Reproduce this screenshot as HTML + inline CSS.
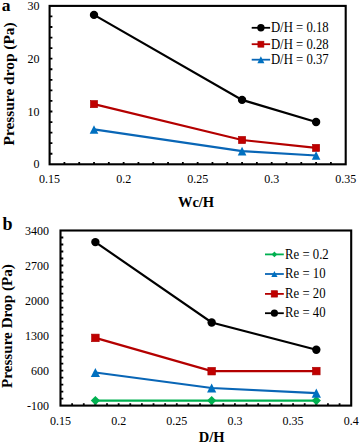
<!DOCTYPE html>
<html><head><meta charset="utf-8"><style>
html,body{margin:0;padding:0;background:#fff;}
body{width:361px;height:443px;overflow:hidden;}
svg{display:block;font-family:"Liberation Serif", serif;}
</style></head><body>
<svg width="361" height="443" viewBox="0 0 361 443">
<rect width="361" height="443" fill="#fff"/>
<path d="M49.6,153.74h2.8M49.6,143.18h2.8M49.6,132.62h2.8M49.6,122.06h2.8M49.6,111.5h2.8M49.6,100.94h2.8M49.6,90.38h2.8M49.6,79.82h2.8M49.6,69.26h2.8M49.6,58.7h2.8M49.6,48.14h2.8M49.6,37.58h2.8M49.6,27.02h2.8M49.6,16.46h2.8M64.41,164.3v-2.4M79.21,164.3v-2.4M94.02,164.3v-2.4M108.82,164.3v-2.4M123.63,164.3v-2.4M138.43,164.3v-2.4M153.24,164.3v-2.4M168.04,164.3v-2.4M182.85,164.3v-2.4M197.65,164.3v-2.4M212.46,164.3v-2.4M227.26,164.3v-2.4M242.07,164.3v-2.4M256.87,164.3v-2.4M271.68,164.3v-2.4M286.48,164.3v-2.4M301.29,164.3v-2.4M316.09,164.3v-2.4M330.9,164.3v-2.4" stroke="#000" stroke-width="1.8" fill="none"/>
<polyline points="94.01,14.88 242.07,99.88 316.09,122.06" fill="none" stroke="#000000" stroke-width="2.2"/>
<circle cx="94.01" cy="14.88" r="4.2" fill="#000000"/>
<circle cx="242.07" cy="99.88" r="4.2" fill="#000000"/>
<circle cx="316.09" cy="122.06" r="4.2" fill="#000000"/>
<polyline points="94.01,104.11 242.07,140.01 316.09,147.93" fill="none" stroke="#B40000" stroke-width="2.2"/>
<rect x="90.41" y="100.51" width="7.2" height="7.2" fill="#C00000" stroke="#A80000" stroke-width="0.6"/>
<rect x="238.47" y="136.41" width="7.2" height="7.2" fill="#C00000" stroke="#A80000" stroke-width="0.6"/>
<rect x="312.49" y="144.33" width="7.2" height="7.2" fill="#C00000" stroke="#A80000" stroke-width="0.6"/>
<polyline points="94.01,129.45 242.07,151.1 316.09,155.48" fill="none" stroke="#0966B6" stroke-width="2.2"/>
<polygon points="94.01,125.15 98.31,133.75 89.71,133.75" fill="#0070C0"/>
<polygon points="242.07,146.8 246.37,155.4 237.77,155.4" fill="#0070C0"/>
<polygon points="316.09,151.18 320.39,159.78 311.79,159.78" fill="#0070C0"/>
<rect x="49.6" y="5.9" width="296.1" height="158.4" fill="none" stroke="#000" stroke-width="2.1"/>
<text transform="translate(39.6,168.4) scale(1,1)" text-anchor="end" font-size="12">0</text>
<text transform="translate(39.6,115.6) scale(1,1)" text-anchor="end" font-size="12">10</text>
<text transform="translate(39.6,62.8) scale(1,1)" text-anchor="end" font-size="12">20</text>
<text transform="translate(39.6,10) scale(1,1)" text-anchor="end" font-size="12">30</text>
<text transform="translate(49.6,182.8) scale(1,1)" text-anchor="middle" font-size="12">0.15</text>
<text transform="translate(123.63,182.8) scale(1,1)" text-anchor="middle" font-size="12">0.2</text>
<text transform="translate(197.65,182.8) scale(1,1)" text-anchor="middle" font-size="12">0.25</text>
<text transform="translate(271.68,182.8) scale(1,1)" text-anchor="middle" font-size="12">0.3</text>
<text transform="translate(345.7,182.8) scale(1,1)" text-anchor="middle" font-size="12">0.35</text>
<text x="196" y="206.8" text-anchor="middle" font-size="14.5" font-weight="bold">Wc/H</text>
<text transform="translate(14,83.9) rotate(-90)" text-anchor="middle" font-size="15.4" font-weight="bold">Pressure drop (Pa)</text>
<text x="1.8" y="10.5" font-size="17.5" font-weight="bold">a</text>
<line x1="251.7" x2="270.1" y1="27.8" y2="27.8" stroke="#000000" stroke-width="1.8"/>
<circle cx="260.9" cy="27.8" r="3.7" fill="#000000"/>
<text transform="translate(270.9,32.1) scale(0.98,1.06)" font-size="13">D/H = 0.18</text>
<line x1="251.7" x2="270.1" y1="44.2" y2="44.2" stroke="#B40000" stroke-width="1.8"/>
<rect x="257.9" y="41.2" width="6" height="6" fill="#C00000" stroke="#A80000" stroke-width="0.6"/>
<text transform="translate(270.9,48.5) scale(0.98,1.06)" font-size="13">D/H = 0.28</text>
<line x1="251.7" x2="270.1" y1="59.7" y2="59.7" stroke="#0966B6" stroke-width="1.8"/>
<polygon points="260.9,56.2 264.4,63.2 257.4,63.2" fill="#0070C0"/>
<text transform="translate(270.9,64) scale(0.98,1.06)" font-size="13">D/H = 0.37</text>
<path d="M60.5,398.6h2.8M60.5,391.59h2.8M60.5,384.59h2.8M60.5,377.58h2.8M60.5,370.58h2.8M60.5,363.58h2.8M60.5,356.57h2.8M60.5,349.57h2.8M60.5,342.56h2.8M60.5,335.56h2.8M60.5,328.56h2.8M60.5,321.55h2.8M60.5,314.55h2.8M60.5,307.54h2.8M60.5,300.54h2.8M60.5,293.54h2.8M60.5,286.53h2.8M60.5,279.53h2.8M60.5,272.52h2.8M60.5,265.52h2.8M60.5,258.52h2.8M60.5,251.51h2.8M60.5,244.51h2.8M60.5,237.5h2.8M72.13,405.6v-2.4M83.76,405.6v-2.4M95.38,405.6v-2.4M107.01,405.6v-2.4M118.64,405.6v-2.4M130.27,405.6v-2.4M141.9,405.6v-2.4M153.52,405.6v-2.4M165.15,405.6v-2.4M176.78,405.6v-2.4M188.41,405.6v-2.4M200.04,405.6v-2.4M211.66,405.6v-2.4M223.29,405.6v-2.4M234.92,405.6v-2.4M246.55,405.6v-2.4M258.18,405.6v-2.4M269.8,405.6v-2.4M281.43,405.6v-2.4M293.06,405.6v-2.4M304.69,405.6v-2.4M316.32,405.6v-2.4M327.94,405.6v-2.4M339.57,405.6v-2.4" stroke="#000" stroke-width="1.8" fill="none"/>
<polyline points="95.38,400.6 211.66,400.6 316.32,400.6" fill="none" stroke="#00B050" stroke-width="2.2"/>
<polygon points="95.38,396 99.98,400.6 95.38,405.2 90.78,400.6" fill="#00B050"/>
<polygon points="211.66,396 216.26,400.6 211.66,405.2 207.06,400.6" fill="#00B050"/>
<polygon points="316.32,396 320.92,400.6 316.32,405.2 311.72,400.6" fill="#00B050"/>
<polyline points="95.38,372.48 211.66,387.99 316.32,393.09" fill="none" stroke="#0966B6" stroke-width="2.2"/>
<polygon points="95.38,367.88 99.98,377.08 90.78,377.08" fill="#0070C0"/>
<polygon points="211.66,383.39 216.26,392.59 207.06,392.59" fill="#0070C0"/>
<polygon points="316.32,388.49 320.92,397.69 311.72,397.69" fill="#0070C0"/>
<polyline points="95.38,337.91 211.66,371.18 316.32,371.08" fill="none" stroke="#B40000" stroke-width="2.2"/>
<rect x="91.58" y="334.11" width="7.6" height="7.6" fill="#C00000" stroke="#A80000" stroke-width="0.6"/>
<rect x="207.86" y="367.38" width="7.6" height="7.6" fill="#C00000" stroke="#A80000" stroke-width="0.6"/>
<rect x="312.52" y="367.28" width="7.6" height="7.6" fill="#C00000" stroke="#A80000" stroke-width="0.6"/>
<polyline points="95.38,242.11 211.66,322.5 316.32,349.72" fill="none" stroke="#000000" stroke-width="2.2"/>
<circle cx="95.38" cy="242.11" r="4.2" fill="#000000"/>
<circle cx="211.66" cy="322.5" r="4.2" fill="#000000"/>
<circle cx="316.32" cy="349.72" r="4.2" fill="#000000"/>
<rect x="60.5" y="230.5" width="290.7" height="175.1" fill="none" stroke="#000" stroke-width="2.1"/>
<text transform="translate(48.9,409.8) scale(1,1.06)" text-anchor="end" font-size="12">-100</text>
<text transform="translate(48.9,374.78) scale(1,1.06)" text-anchor="end" font-size="12">600</text>
<text transform="translate(48.9,339.76) scale(1,1.06)" text-anchor="end" font-size="12">1300</text>
<text transform="translate(48.9,304.74) scale(1,1.06)" text-anchor="end" font-size="12">2000</text>
<text transform="translate(48.9,269.72) scale(1,1.06)" text-anchor="end" font-size="12">2700</text>
<text transform="translate(48.9,234.7) scale(1,1.06)" text-anchor="end" font-size="12">3400</text>
<text transform="translate(60.5,424.6) scale(1,1.06)" text-anchor="middle" font-size="12">0.15</text>
<text transform="translate(118.64,424.6) scale(1,1.06)" text-anchor="middle" font-size="12">0.2</text>
<text transform="translate(176.78,424.6) scale(1,1.06)" text-anchor="middle" font-size="12">0.25</text>
<text transform="translate(234.92,424.6) scale(1,1.06)" text-anchor="middle" font-size="12">0.3</text>
<text transform="translate(293.06,424.6) scale(1,1.06)" text-anchor="middle" font-size="12">0.35</text>
<text transform="translate(351.2,424.6) scale(1,1.06)" text-anchor="middle" font-size="12">0.4</text>
<text x="211.7" y="441.6" text-anchor="middle" font-size="14.5" font-weight="bold">D/H</text>
<text transform="translate(12.1,326.1) rotate(-90)" text-anchor="middle" font-size="15.2" font-weight="bold">Pressure Drop (Pa)</text>
<text x="2.4" y="230.4" font-size="18" font-weight="bold">b</text>
<line x1="265" x2="283.8" y1="254.4" y2="254.4" stroke="#00B050" stroke-width="1.8"/>
<polygon points="274.4,251.6 277.2,254.4 274.4,257.2 271.6,254.4" fill="#00B050"/>
<text transform="translate(285.1,258.6) scale(0.98,1.06)" font-size="13">Re = 0.2</text>
<line x1="265" x2="283.8" y1="274" y2="274" stroke="#0966B6" stroke-width="1.8"/>
<polygon points="274.4,270.9 277.5,277.1 271.3,277.1" fill="#0070C0"/>
<text transform="translate(285.1,278.2) scale(0.98,1.06)" font-size="13">Re = 10</text>
<line x1="265" x2="283.8" y1="293.9" y2="293.9" stroke="#B40000" stroke-width="1.8"/>
<rect x="271.2" y="290.7" width="6.4" height="6.4" fill="#C00000" stroke="#A80000" stroke-width="0.6"/>
<text transform="translate(285.1,298.1) scale(0.98,1.06)" font-size="13">Re = 20</text>
<line x1="265" x2="283.8" y1="313.2" y2="313.2" stroke="#000000" stroke-width="1.8"/>
<circle cx="274.4" cy="313.2" r="3.6" fill="#000000"/>
<text transform="translate(285.1,317.4) scale(0.98,1.06)" font-size="13">Re = 40</text>
</svg>
</body></html>
